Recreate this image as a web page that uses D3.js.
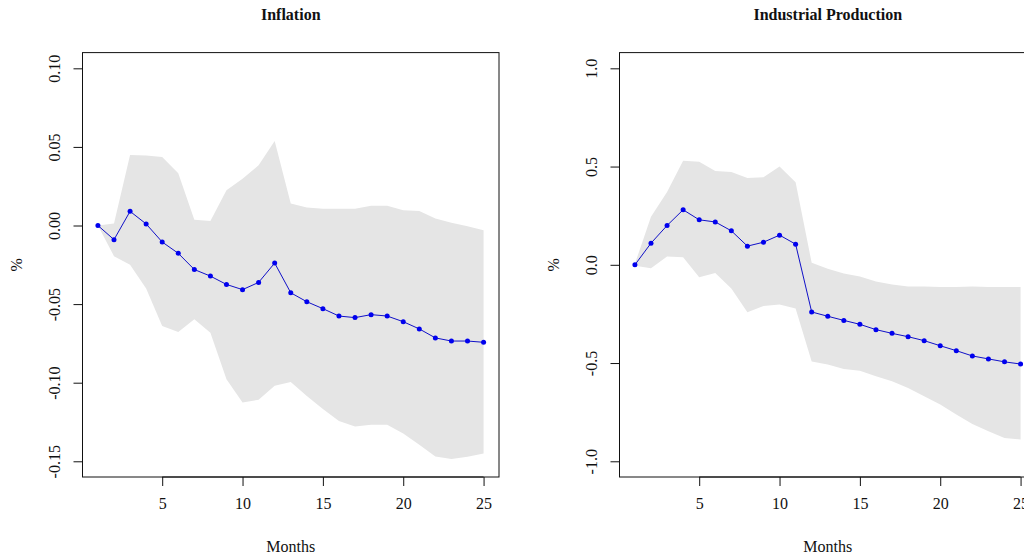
<!DOCTYPE html>
<html>
<head>
<meta charset="utf-8">
<script src="https://cdn.jsdelivr.net/npm/d3@7"></script>
<style>
  html, body { margin: 0; padding: 0; background: #fff; }
  svg { display: block; }
  text { font-family: "Liberation Serif", "DejaVu Serif", serif; fill: #111; }
</style>
</head>
<body>
<svg id="chart" width="1024" height="556"></svg>
<script>
const months = d3.range(1, 26);

const infMean  = [0, -0.009, 0.009, 0.001, -0.0105, -0.0177, -0.028, -0.0322, -0.0375, -0.0408, -0.0362, -0.0239, -0.0428, -0.0485, -0.0529, -0.0576, -0.0586, -0.0567, -0.0576, -0.0612, -0.0658, -0.0715, -0.0735, -0.0735, -0.0743];
const infUpper = [0, 0.0012, 0.0449, 0.0446, 0.0436, 0.0332, 0.0036, 0.0028, 0.0224, 0.0298, 0.0383, 0.0538, 0.014, 0.0114, 0.0106, 0.0106, 0.0106, 0.0125, 0.0125, 0.0097, 0.0093, 0.0044, 0.0017, -0.0004, -0.003];
const infLower = [0, -0.0195, -0.025, -0.040, -0.0639, -0.0677, -0.0597, -0.0682, -0.0978, -0.1126, -0.1109, -0.102, -0.0995, -0.1084, -0.1168, -0.1243, -0.1278, -0.1268, -0.1268, -0.1323, -0.1395, -0.1469, -0.1486, -0.1471, -0.145];

const ipMean  = [0, 0.11, 0.20, 0.28, 0.229, 0.218, 0.173, 0.095, 0.115, 0.151, 0.105, -0.240, -0.262, -0.283, -0.303, -0.330, -0.349, -0.366, -0.386, -0.412, -0.437, -0.464, -0.479, -0.494, -0.505];
const ipUpper = [0.005, 0.245, 0.37, 0.53, 0.524, 0.478, 0.472, 0.442, 0.446, 0.50, 0.42, 0.01, -0.02, -0.044, -0.059, -0.085, -0.100, -0.110, -0.110, -0.113, -0.113, -0.11, -0.113, -0.113, -0.113];
const ipLower = [-0.005, -0.017, 0.042, 0.038, -0.063, -0.042, -0.12, -0.242, -0.21, -0.202, -0.222, -0.492, -0.508, -0.53, -0.539, -0.567, -0.593, -0.627, -0.669, -0.711, -0.762, -0.81, -0.847, -0.881, -0.889];

const xTicks = [5, 10, 15, 20, 25];
const infTicks = [0.10, 0.05, 0.00, -0.05, -0.10, -0.15];
const infTickLabels = ["0.10", "0.05", "0.00", "-0.05", "-0.10", "-0.15"];
const ipTicks = [1.0, 0.5, 0.0, -0.5, -1.0];
const ipTickLabels = ["1.0", "0.5", "0.0", "-0.5", "-1.0"];

const titles = ["Inflation", "Industrial Production"];
const xLabel = "Months";
const yLabel = "%";

const svg = d3.select("#chart");

function panel(offsetX, title, mean, upper, lower, yDomain, ticks, tickLabels) {
  const left = offsetX + 82.5, right = offsetX + 499, top = 52.6, bottom = 477;
  const g = svg.append("g");
  // R style 4% extension
  const xr = [1 - 0.96, 25 + 0.96];
  const x = d3.scaleLinear().domain(xr).range([left, right]);
  const span = yDomain[1] - yDomain[0];
  const y = d3.scaleLinear().domain([yDomain[0] - 0.04 * span, yDomain[1] + 0.04 * span]).range([bottom, top]);

  const clipId = "clip" + Math.round(offsetX);
  svg.append("clipPath").attr("id", clipId).append("rect")
    .attr("x", left).attr("y", top).attr("width", right - left).attr("height", bottom - top);

  const data = months.map((m, i) => ({ m, mean: mean[i], up: upper[i], lo: lower[i] }));

  g.append("path").datum(data)
    .attr("clip-path", `url(#${clipId})`)
    .attr("fill", "#e5e5e5")
    .attr("d", d3.area().x(d => x(d.m)).y0(d => y(d.lo)).y1(d => y(d.up)));

  g.append("path").datum(data)
    .attr("fill", "none").attr("stroke", "#1010c8").attr("stroke-width", 1)
    .attr("d", d3.line().x(d => x(d.m)).y(d => y(d.mean)));

  g.selectAll("circle.pt").data(data).enter().append("circle")
    .attr("cx", d => x(d.m)).attr("cy", d => y(d.mean)).attr("r", 2.5)
    .attr("fill", "#0000ee");

  // box
  g.append("rect").attr("x", left).attr("y", top).attr("width", right - left).attr("height", bottom - top)
    .attr("fill", "none").attr("stroke", "#111").attr("stroke-width", 1);

  // x axis
  const xa = g.append("g").attr("transform", `translate(0,${bottom})`)
    .call(d3.axisBottom(x).tickValues(xTicks).tickSize(9).tickPadding(12).tickFormat(d3.format("d")));
  xa.select(".domain").attr("d", `M${x(xTicks[0])},0H${x(xTicks[xTicks.length - 1])}`).attr("stroke", "#111");
  xa.selectAll(".tick line").attr("stroke", "#111");
  xa.selectAll(".tick text").attr("font-size", 16).attr("font-family", "Liberation Serif").attr("fill", "#111");

  // y axis
  const ya = g.append("g").attr("transform", `translate(${left},0)`)
    .call(d3.axisLeft(y).tickValues(ticks).tickSize(9).tickFormat((d, i) => tickLabels[i]));
  ya.select(".domain").attr("d", `M0,${y(ticks[0])}V${y(ticks[ticks.length - 1])}`).attr("stroke", "#111");
  ya.selectAll(".tick line").attr("stroke", "#111");
  ya.selectAll(".tick text")
    .attr("font-size", 16).attr("font-family", "Liberation Serif").attr("fill", "#111")
    .attr("x", 0).attr("dy", null)
    .attr("text-anchor", "middle")
    .attr("dominant-baseline", "central")
    .attr("transform", `translate(${offsetX + 54.5 - left},0) rotate(-90)`);
  ya.selectAll(".tick").each(function () {
    const t = d3.select(this);
  });

  // title
  g.append("text").attr("x", (left + right) / 2).attr("y", 19.5)
    .attr("text-anchor", "middle").attr("font-weight", "bold").attr("font-size", 16).text(title);
  // x label
  g.append("text").attr("x", (left + right) / 2).attr("y", 551.5)
    .attr("text-anchor", "middle").attr("font-size", 16).text(xLabel);
  // y label
  g.append("text").attr("transform", `translate(${offsetX + 16},${(top + bottom) / 2}) rotate(-90)`)
    .attr("text-anchor", "middle").attr("dominant-baseline", "central").attr("font-size", 16).text(yLabel);
}

panel(0, titles[0], infMean, infUpper, infLower, [-0.15, 0.10], infTicks, infTickLabels);
panel(537, titles[1], ipMean, ipUpper, ipLower, [-1.0, 1.0], ipTicks, ipTickLabels);
</script>
</body>
</html>
